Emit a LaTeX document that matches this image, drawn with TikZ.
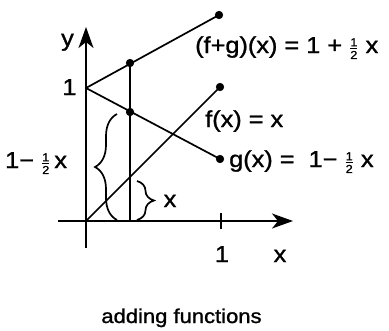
\documentclass[tikz,border=0pt]{standalone}
\usepackage{amsmath}
\usepackage{fontspec}
\setmainfont[FakeStretch=1.1,FakeBold=1.2]{Liberation Sans}
\usetikzlibrary{arrows.meta,decorations.pathreplacing}
\newcommand{\hlf}{\ensuremath{\scriptstyle\frac{\text{1}}{\text{2}}}}
\begin{document}
\begin{tikzpicture}[x=1pt,y=-1pt,
  lbl/.style={inner sep=0pt,font=\fontsize{23}{27}\selectfont},
  axis/.style={line width=2pt,-{Stealth[length=21pt,width=15pt,inset=6pt]}},
  graph/.style={line width=1.7pt},
  dot/.style={fill=black,draw=black,line width=0.6pt},
  brc/.style={line width=1.7pt,decorate}]
\useasboundingbox (0,0) rectangle (389,330);
% key points
\coordinate (O) at (86,221);
\coordinate (Yb) at (86,248);
\coordinate (Yt) at (86,27);
\coordinate (Xl) at (58,221);
\coordinate (Xr) at (293,221);
\coordinate (One) at (86,88);
\coordinate (FG) at (219,15);
\coordinate (F) at (220,87);
\coordinate (G) at (220,159);
\coordinate (A) at (130,63);
\coordinate (B) at (130,112);
\coordinate (Ab) at (130,221);
\coordinate (Tt) at (221,213);
\coordinate (Tb) at (221,229);
% axes
\draw[axis] (Yb) -- (Yt);
\draw[axis] (Xl) -- (Xr);
\draw[line width=1.7pt] (Tt) -- (Tb);
% graphs
\draw[graph] (One) -- (FG);
\draw[graph] (One) -- (G);
\draw[graph] (O) -- (F);
\draw[graph] (A) -- (Ab);
% dots
\foreach \p in {FG,F,G,A,B} \fill[dot] (\p) circle (3.8pt);
% braces
\coordinate (Bb) at (117,220);
\coordinate (Bt) at (117,114);
\coordinate (Sb) at (137,220);
\coordinate (St) at (137,181);
\draw[brc,decoration={brace,amplitude=22pt}] (Bb) -- (Bt);
\draw[brc,decoration={brace,amplitude=17pt}] (St) -- (Sb);
% labels
\node[lbl,anchor=base] (ylab) at (67.5,46) {y};
\node[lbl,anchor=base] (one) at (69.5,95) {1};
\node[lbl,anchor=base west] (lft) at (5,168) {1−\ \hlf\,x};
\node[lbl,anchor=base] (sx) at (170,207) {x};
\node[lbl,anchor=base] (xone) at (222,262) {1};
\node[lbl,anchor=base] (xlab) at (280,262) {x};
\node[lbl,anchor=base west] (fglab) at (195,53) {(f+g)(x) = 1 + \hlf\ x};
\node[lbl,anchor=base west] (flab) at (205,127) {f(x) = x};
\node[lbl,anchor=base west] (glab) at (229,167) {g(x) = \ 1−\ \hlf\ x};
\node[inner sep=0pt,anchor=base,font=\fontsize{20}{24}\selectfont] (cap) at (181.5,323) {adding functions};
\end{tikzpicture}
\end{document}
